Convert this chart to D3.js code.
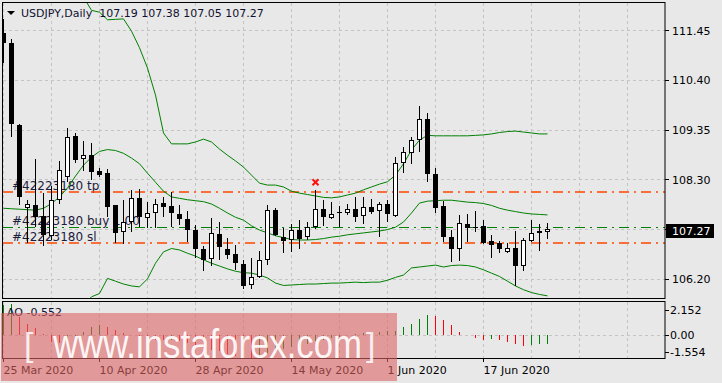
<!DOCTYPE html>
<html>
<head>
<meta charset="utf-8">
<script src="https://cdn.jsdelivr.net/npm/d3@7"></script>
<style>
  body { margin: 0; background: #e8e8e8; }
  svg { display: block; font-family: "DejaVu Sans", sans-serif; }
</style>
</head>
<body>
<svg id="chart" width="722" height="383"></svg>
<script>
// daily USDJPY candles, 25 Mar 2020 onwards
const opens = [111.40,111.18,109.45,107.70,107.77,107.53,107.12,107.87,108.35,109.23,
  108.73,108.82,108.49,108.44,107.76,107.19,107.42,107.91,107.50,107.59,
  107.82,107.75,107.58,107.47,107.24,106.83,106.62,107.15,106.85,106.73,
  106.52,106.08,106.25,106.61,107.66,107.10,107.03,107.24,107.09,107.31,
  107.68,107.50,107.62,107.59,107.68,107.54,107.72,107.65,107.79,107.54,
  108.65,108.87,109.14,109.58,108.42,107.75,107.09,106.85,107.37,107.31,
  107.32,107.01,106.96,106.77,106.87,106.49,107.01,107.17,107.19];
const highs = [111.70,111.27,109.49,107.87,108.73,108.02,108.18,108.70,109.40,109.28,
  109.12,109.07,108.55,108.52,107.77,107.87,108.09,108.10,107.84,107.89,
  107.94,108.05,107.77,107.65,107.35,106.91,107.49,107.40,107.07,106.92,
  106.61,106.64,106.80,107.77,107.70,107.28,107.36,107.45,107.42,108.09,
  107.87,107.84,107.75,107.79,107.93,107.94,107.90,107.84,107.87,108.78,
  109.00,109.21,109.86,109.71,108.54,107.86,107.24,107.56,107.58,107.64,
  107.45,107.13,107.01,106.96,107.23,107.07,107.45,107.37,107.38];
const lows = [110.77,109.21,107.77,106.97,107.31,106.91,107.03,107.79,108.26,108.65,
  108.49,108.30,108.35,107.52,106.96,106.94,107.20,107.30,107.28,107.28,
  107.52,107.31,107.35,106.99,106.64,106.37,106.48,106.60,106.63,106.40,
  105.99,105.99,106.22,106.50,107.11,106.75,106.77,106.85,107.04,107.26,
  107.33,107.47,107.30,107.56,107.40,107.36,107.58,107.09,107.40,107.51,
  108.44,108.63,108.89,108.25,107.61,106.99,106.57,106.59,106.99,107.20,
  106.95,106.64,106.76,106.75,106.06,106.38,106.99,106.80,107.05];
const closes = [111.19,109.48,107.94,107.78,107.52,107.14,107.87,108.50,109.20,108.72,
  108.82,108.47,108.41,107.73,107.18,107.42,107.91,107.52,107.61,107.80,
  107.72,107.59,107.47,107.24,106.85,106.61,107.17,106.89,106.72,106.54,
  106.06,106.24,106.61,107.66,107.14,107.01,107.24,107.05,107.30,107.68,
  107.51,107.57,107.59,107.68,107.52,107.72,107.63,107.80,107.57,108.65,
  108.88,109.14,109.58,108.42,107.71,107.09,106.83,107.38,107.29,107.28,
  106.97,106.92,106.85,106.87,106.49,107.03,107.17,107.22,107.27];

// Bollinger bands (null = not yet on screen)
const bandUpper = [null,null,null,null,null,null,null,null,null,112.52,
  112.16,111.88,111.84,111.68,111.69,111.70,111.44,111.09,110.66,110.09,
  109.29,109.06,109.06,109.06,109.10,109.16,109.10,108.95,108.82,108.70,
  108.57,108.40,108.23,108.19,108.19,108.15,108.06,108.02,107.99,107.96,
  107.93,107.92,107.94,107.98,108.02,108.09,108.15,108.21,108.26,108.40,
  108.64,108.93,109.14,109.24,109.23,109.23,109.23,109.23,109.23,109.24,
  109.25,109.27,109.30,109.32,109.33,109.31,109.29,109.27,109.27];
const bandMiddle = [107.70,107.69,107.68,107.67,107.66,107.70,107.80,107.94,108.13,108.38,
  108.61,108.78,108.90,108.94,108.92,108.86,108.76,108.64,108.44,108.25,
  108.06,107.94,107.91,107.88,107.86,107.84,107.79,107.70,107.60,107.51,
  107.45,107.33,107.24,107.18,107.12,107.08,107.04,107.03,107.03,107.04,
  107.06,107.09,107.11,107.14,107.16,107.18,107.20,107.22,107.25,107.30,
  107.41,107.60,107.81,107.85,107.86,107.87,107.87,107.85,107.83,107.82,
  107.80,107.76,107.70,107.66,107.63,107.60,107.58,107.57,107.56];
const bandLower = [null,null,null,null,null,null,null,null,null,null,
  105.66,105.83,105.90,106.22,106.16,106.10,106.06,106.04,106.21,106.54,
  106.78,106.85,106.82,106.75,106.69,106.61,106.54,106.48,106.42,106.37,
  106.34,106.33,106.29,106.23,106.12,106.07,106.08,106.09,106.10,106.10,
  106.11,106.12,106.12,106.13,106.14,106.13,106.14,106.14,106.18,106.24,
  106.29,106.44,106.46,106.48,106.50,106.46,106.49,106.50,106.49,106.46,
  106.40,106.33,106.26,106.16,106.06,105.98,105.92,105.88,105.85];

// Awesome Oscillator
const aoValues = [2.05,2.152,1.26,0.75,0.48,0.07,-0.42,-0.53,-0.31,-0.09,
  0.25,0.59,0.70,0.59,0.36,0.14,0.02,-0.10,-0.22,-0.30,
  -0.33,-0.30,-0.36,-0.48,-0.66,-0.86,-0.98,-1.08,-1.22,-1.38,
  -1.50,-1.554,-1.48,-1.25,-1.05,-0.92,-0.80,-0.70,-0.56,-0.40,
  -0.30,-0.18,-0.08,0.00,0.08,0.14,0.20,0.24,0.27,0.30,
  0.57,0.75,1.11,1.37,1.33,1.04,0.70,0.25,0.03,-0.20,
  -0.31,-0.26,-0.31,-0.42,-0.58,-0.69,-0.65,-0.60,-0.552];
const aoMax = 2.152, aoMin = -1.554;

const priceTicks = [111.45, 110.40, 109.35, 108.30, 107.25, 106.20];
const dateTickIndex = [0, 12, 24, 36, 48, 60];
const dateTickLabels = ["25 Mar 2020", "10 Apr 2020", "28 Apr 2020", "14 May 2020", "1 Jun 2020", "17 Jun 2020"];

const symbolTitle = "USDJPY,Daily";
const lastOHLC = ["107.19", "107.38", "107.05", "107.27"];
const bidPrice = 107.27;
const orderId = "#42223180";
const tpPrice = 108.04, buyPrice = 107.30, slPrice = 106.96;
const closeMark = {index: 39, price: 108.25};

const svg = d3.select("#chart");
const gridColor = "#c4c4c4";

const x = d3.scaleLinear().domain([0, 1]).range([3.5, 11.5]);
const y = d3.scaleLinear().domain([106.20, 111.45]).range([279.3, 30.7]);
const yAO = d3.scaleLinear().domain([aoMin, aoMax]).range([358.5, 303.5]);
const px = v => Math.floor(v) + 0.5;

svg.append("rect").attr("width", 722).attr("height", 383).attr("fill", "#e8e8e8");

const defs = svg.append("defs");
defs.append("clipPath").attr("id", "clipMain")
  .append("rect").attr("x", 3).attr("y", 3).attr("width", 662).attr("height", 295);
defs.append("clipPath").attr("id", "clipAO")
  .append("rect").attr("x", 3).attr("y", 302).attr("width", 662).attr("height", 56);

// grid
const gridIdx = d3.range(0, 80, 6);
const grid = svg.append("g").attr("stroke", gridColor).attr("stroke-dasharray", "3,3");
grid.selectAll(".vg").data(gridIdx).join("line")
  .attr("x1", d => x(d)).attr("x2", d => x(d)).attr("y1", 3).attr("y2", 298);
grid.selectAll(".vg2").data(gridIdx).join("line")
  .attr("x1", d => x(d)).attr("x2", d => x(d)).attr("y1", 302).attr("y2", 358);
grid.selectAll(".hg").data(priceTicks).join("line")
  .attr("x1", 3).attr("x2", 665).attr("y1", d => px(y(d))).attr("y2", d => px(y(d)));
grid.append("line").attr("x1", 3).attr("x2", 665)
  .attr("y1", px(yAO(0))).attr("y2", px(yAO(0)));

const mainG = svg.append("g").attr("clip-path", "url(#clipMain)");

// order labels (under the candles)
const orderText = [
  {label: orderId + " tp", price: tpPrice},
  {label: orderId + " buy 1.00", price: buyPrice},
  {label: orderId + " sl", price: slPrice}
];
mainG.selectAll(".otxt").data(orderText).join("text")
  .attr("x", 12).attr("y", d => y(d.price) - 2.5)
  .attr("font-size", 12).attr("fill", "#1c1c3c")
  .text(d => d.label);

// order lines
const orderLines = [
  {price: tpPrice, color: "#ff4500", w: 1.6},
  {price: buyPrice, color: "#008000", w: 1},
  {price: slPrice, color: "#ff4500", w: 1.6}
];
mainG.selectAll(".oline").data(orderLines).join("line")
  .attr("x1", 3).attr("x2", 665)
  .attr("y1", d => d.w > 1 ? Math.round(y(d.price)) : px(y(d.price)))
  .attr("y2", d => d.w > 1 ? Math.round(y(d.price)) : px(y(d.price)))
  .attr("stroke", d => d.color).attr("stroke-width", d => d.w)
  .attr("stroke-dasharray", "10,5,2,5");

// bollinger bands
const band = d3.line().defined(d => d != null).x((d, i) => x(i)).y(d => y(d));
[bandUpper, bandMiddle, bandLower].forEach(arr => {
  mainG.append("path").datum(arr).attr("d", band)
    .attr("fill", "none").attr("stroke", "#008000").attr("stroke-width", 1);
});

// candles
const candles = opens.map((o, i) => ({i, o, h: highs[i], l: lows[i], c: closes[i]}));
const cg = mainG.selectAll(".candle").data(candles).join("g");
cg.append("line")
  .attr("x1", d => x(d.i)).attr("x2", d => x(d.i))
  .attr("y1", d => Math.round(y(d.h))).attr("y2", d => Math.round(y(d.l)))
  .attr("stroke", "#000");
cg.each(function(d) {
  const top = Math.round(y(Math.max(d.o, d.c)));
  const bot = Math.round(y(Math.min(d.o, d.c)));
  const g = d3.select(this);
  if (d.c >= d.o) {
    g.append("rect").attr("x", x(d.i) - 2).attr("y", top + 0.5)
      .attr("width", 4).attr("height", Math.max(1, bot - top - 1))
      .attr("fill", "#fff").attr("stroke", "#000");
  } else {
    g.append("rect").attr("x", x(d.i) - 2.5).attr("y", top)
      .attr("width", 5).attr("height", Math.max(1, bot - top))
      .attr("fill", "#000");
  }
});

// close marker
const mx = x(closeMark.index), my = y(closeMark.price);
mainG.append("path")
  .attr("d", `M${mx - 3},${my - 3}L${mx + 3},${my + 3}M${mx - 3},${my + 3}L${mx + 3},${my - 3}`)
  .attr("stroke", "#ff1010").attr("stroke-width", 2);

// AO histogram
const aoG = svg.append("g").attr("clip-path", "url(#clipAO)");
aoG.selectAll("line").data(aoValues).join("line")
  .attr("x1", (d, i) => x(i)).attr("x2", (d, i) => x(i))
  .attr("y1", Math.round(yAO(0))).attr("y2", d => Math.round(yAO(d)))
  .attr("stroke", (d, i) => (i === 0 || d > aoValues[i - 1]) ? "#008000" : "#ff0000");

// frames
svg.append("rect").attr("x", 2.5).attr("y", 2.5).attr("width", 662.5).attr("height", 296)
  .attr("fill", "none").attr("stroke", "#000");
svg.append("rect").attr("x", 2.5).attr("y", 301.5).attr("width", 662.5).attr("height", 57)
  .attr("fill", "none").attr("stroke", "#000");

// price axis
const axisG = svg.append("g").attr("font-size", 11).attr("fill", "#000");
axisG.selectAll(".pt").data(priceTicks).join("line")
  .attr("x1", 665).attr("x2", 669).attr("y1", d => px(y(d))).attr("y2", d => px(y(d)))
  .attr("stroke", "#000");
axisG.selectAll(".pl").data(priceTicks).join("text")
  .attr("x", 672).attr("y", d => y(d) + 4).text(d => d.toFixed(2));

// bid box
const by = Math.round(y(bidPrice));
svg.append("rect").attr("x", 666).attr("y", by - 5).attr("width", 48).attr("height", 14).attr("fill", "#000");
svg.append("text").attr("x", 672).attr("y", by + 6).attr("font-size", 11).attr("fill", "#fff")
  .text(bidPrice.toFixed(2));

// AO axis
const aoLabels = [
  {v: aoMax, yy: yAO(aoMax) + 6.5, t: aoMax.toFixed(3)},
  {v: 0, yy: yAO(0), t: "0.00"},
  {v: aoMin, yy: yAO(aoMin) - 6.5, t: aoMin.toFixed(3)}
];
axisG.selectAll(".at").data(aoLabels).join("line")
  .attr("x1", 665).attr("x2", 669).attr("y1", d => px(d.yy)).attr("y2", d => px(d.yy))
  .attr("stroke", "#000");
axisG.selectAll(".al").data(aoLabels).join("text")
  .attr("x", 670).attr("y", d => d.yy + 4).text(d => d.t);

// date axis
axisG.selectAll(".dt").data(dateTickIndex).join("line")
  .attr("x1", d => x(d)).attr("x2", d => x(d)).attr("y1", 358).attr("y2", 362)
  .attr("stroke", "#000");
axisG.selectAll(".dl").data(dateTickIndex).join("text")
  .attr("x", d => x(d)).attr("y", 374).text((d, i) => dateTickLabels[i]);

// titles
svg.append("path").attr("d", "M7,11L15,11L11,15Z").attr("fill", "#000");
svg.append("text").attr("x", 21).attr("y", 17).attr("font-size", 11).attr("fill", "#101030")
  .attr("xml:space", "preserve")
  .text(symbolTitle + "  " + lastOHLC.join(" "));
svg.append("text").attr("x", 7).attr("y", 316).attr("font-size", 11).attr("fill", "#101030")
  .text("AO " + aoValues[aoValues.length - 1].toFixed(3));

// watermark
const wm = svg.append("g");
wm.append("rect").attr("x", 1).attr("y", 313).attr("width", 396).attr("height", 68)
  .attr("fill", "rgba(220,100,100,0.6)");
wm.append("text").attr("x", 53).attr("y", 358)
  .attr("font-family", "Liberation Sans, Arial, sans-serif").attr("font-size", 40)
  .attr("textLength", 309).attr("lengthAdjust", "spacingAndGlyphs")
  .attr("fill", "rgba(255,255,255,0.92)").text("www.instaforex.com");
wm.selectAll(".br").data(["[", "]"]).join("text")
  .attr("x", (d, i) => i === 0 ? 24 : 366).attr("y", 356)
  .attr("font-family", "Liberation Sans, Arial, sans-serif").attr("font-size", 34)
  .attr("font-weight", 300)
  .attr("fill", "rgba(255,255,255,0.85)").text(d => d);
</script>
</body>
</html>
